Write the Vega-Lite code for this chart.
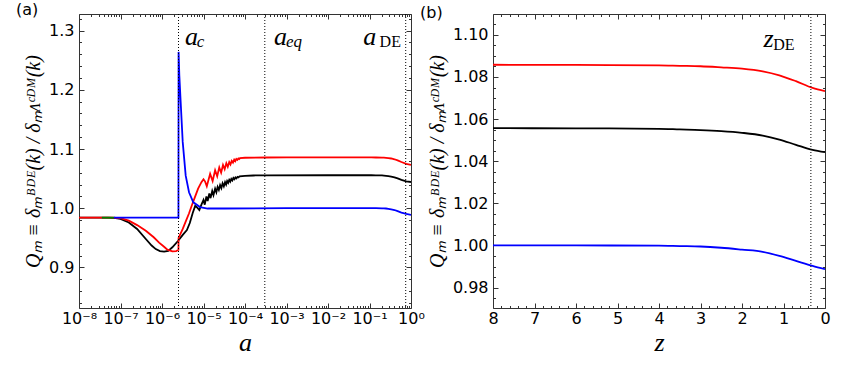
{
  "$schema": "https://vega.github.io/schema/vega-lite/v6.json",
  "bounds": "flush",
  "spacing": 82,
  "padding": {"left": 16, "top": 2, "right": 5, "bottom": 5},
  "config": {
    "view": {"stroke": null},
    "axis": {
      "labelFont": "DejaVu Sans", "labelFontSize": 16, "labelColor": "black",
      "domainColor": "#333333", "tickColor": "#333333", "grid": false,
      "titleFont": "Liberation Serif", "titleFontStyle": "italic", "titleFontWeight": "normal", "titleColor": "black",
      "labelOverlap": false, "labelFlush": false
    },
    "title": {"font": "DejaVu Sans", "fontSize": 16, "fontWeight": "normal", "color": "black"}
  },
  "datasets": {
    "qa": [
      {"s": "k1", "a": 1e-8, "q": 0.984}, {"s": "k1", "a": 5.012e-8, "q": 0.984}, {"s": "k1", "a": 7.586e-8, "q": 0.9835},
      {"s": "k1", "a": 1e-7, "q": 0.982}, {"s": "k1", "a": 1.585e-7, "q": 0.976}, {"s": "k1", "a": 2.512e-7, "q": 0.965},
      {"s": "k1", "a": 4.074e-7, "q": 0.948}, {"s": "k1", "a": 5.623e-7, "q": 0.937}, {"s": "k1", "a": 7.079e-7, "q": 0.931},
      {"s": "k1", "a": 8.913e-7, "q": 0.9275}, {"s": "k1", "a": 1.122e-6, "q": 0.9266}, {"s": "k1", "a": 1.413e-6, "q": 0.928},
      {"s": "k1", "a": 1.778e-6, "q": 0.934}, {"s": "k1", "a": 2.455e-6, "q": 0.945}, {"s": "k1", "a": 3.162e-6, "q": 0.955},
      {"s": "k1", "a": 3.981e-6, "q": 0.963}, {"s": "k1", "a": 4.677e-6, "q": 0.975}, {"s": "k1", "a": 5.495e-6, "q": 0.992},
      {"s": "k1", "a": 6.31e-6, "q": 1.004}, {"s": "k1", "a": 7.079e-6, "q": 1.001}, {"s": "k1", "a": 7.943e-6, "q": 0.997},
      {"s": "k1", "a": 8.913e-6, "q": 1.006}, {"s": "k1", "a": 1e-5, "q": 1.014}, {"s": "k1", "a": 1.072e-5, "q": 1.006},
      {"s": "k1", "a": 1.175e-5, "q": 1.020}, {"s": "k1", "a": 1.259e-5, "q": 1.012}, {"s": "k1", "a": 1.380e-5, "q": 1.025},
      {"s": "k1", "a": 1.479e-5, "q": 1.017}, {"s": "k1", "a": 1.622e-5, "q": 1.029}, {"s": "k1", "a": 1.738e-5, "q": 1.022},
      {"s": "k1", "a": 1.905e-5, "q": 1.033}, {"s": "k1", "a": 2.042e-5, "q": 1.027}, {"s": "k1", "a": 2.188e-5, "q": 1.036},
      {"s": "k1", "a": 2.344e-5, "q": 1.031}, {"s": "k1", "a": 2.512e-5, "q": 1.039}, {"s": "k1", "a": 2.692e-5, "q": 1.034},
      {"s": "k1", "a": 2.884e-5, "q": 1.042}, {"s": "k1", "a": 3.090e-5, "q": 1.037}, {"s": "k1", "a": 3.311e-5, "q": 1.044},
      {"s": "k1", "a": 3.508e-5, "q": 1.040}, {"s": "k1", "a": 3.715e-5, "q": 1.046}, {"s": "k1", "a": 3.936e-5, "q": 1.043},
      {"s": "k1", "a": 4.169e-5, "q": 1.048}, {"s": "k1", "a": 4.416e-5, "q": 1.045}, {"s": "k1", "a": 4.677e-5, "q": 1.0495},
      {"s": "k1", "a": 4.955e-5, "q": 1.047}, {"s": "k1", "a": 5.248e-5, "q": 1.051}, {"s": "k1", "a": 5.559e-5, "q": 1.049},
      {"s": "k1", "a": 5.888e-5, "q": 1.052}, {"s": "k1", "a": 6.237e-5, "q": 1.0505}, {"s": "k1", "a": 6.607e-5, "q": 1.053},
      {"s": "k1", "a": 6.998e-5, "q": 1.052}, {"s": "k1", "a": 7.413e-5, "q": 1.054}, {"s": "k1", "a": 1e-4, "q": 1.0548},
      {"s": "k1", "a": 1.585e-4, "q": 1.0553}, {"s": "k1", "a": 3.162e-4, "q": 1.0556}, {"s": "k1", "a": 1e-2, "q": 1.0557},
      {"s": "k1", "a": 0.1111, "q": 1.0557}, {"s": "k1", "a": 0.1429, "q": 1.0556}, {"s": "k1", "a": 0.2, "q": 1.0554},
      {"s": "k1", "a": 0.2222, "q": 1.0551}, {"s": "k1", "a": 0.25, "q": 1.0548}, {"s": "k1", "a": 0.2857, "q": 1.0543},
      {"s": "k1", "a": 0.3333, "q": 1.0535}, {"s": "k1", "a": 0.4, "q": 1.0522}, {"s": "k1", "a": 0.4762, "q": 1.0503},
      {"s": "k1", "a": 0.5882, "q": 1.0478}, {"s": "k1", "a": 0.7692, "q": 1.0454}, {"s": "k1", "a": 1.0, "q": 1.0443},

      {"s": "k2", "a": 1e-8, "q": 0.984}, {"s": "k2", "a": 6.31e-8, "q": 0.984}, {"s": "k2", "a": 1e-7, "q": 0.9832},
      {"s": "k2", "a": 1.585e-7, "q": 0.979}, {"s": "k2", "a": 2.512e-7, "q": 0.9715}, {"s": "k2", "a": 4.074e-7, "q": 0.962},
      {"s": "k2", "a": 6.31e-7, "q": 0.951}, {"s": "k2", "a": 8.511e-7, "q": 0.942}, {"s": "k2", "a": 1.122e-6, "q": 0.935},
      {"s": "k2", "a": 1.349e-6, "q": 0.930}, {"s": "k2", "a": 1.778e-6, "q": 0.927}, {"s": "k2", "a": 2.188e-6, "q": 0.9275},
      {"s": "k2", "a": 2.49e-6, "q": 0.930}, {"s": "k2", "a": 2.51e-6, "q": 0.950}, {"s": "k2", "a": 3.162e-6, "q": 0.965},
      {"s": "k2", "a": 3.802e-6, "q": 0.979}, {"s": "k2", "a": 4.467e-6, "q": 0.991}, {"s": "k2", "a": 5.248e-6, "q": 1.005},
      {"s": "k2", "a": 6.31e-6, "q": 1.020}, {"s": "k2", "a": 7.413e-6, "q": 1.033}, {"s": "k2", "a": 8.913e-6, "q": 1.044},
      {"s": "k2", "a": 1e-5, "q": 1.049}, {"s": "k2", "a": 1.096e-5, "q": 1.045}, {"s": "k2", "a": 1.202e-5, "q": 1.037},
      {"s": "k2", "a": 1.445e-5, "q": 1.058}, {"s": "k2", "a": 1.660e-5, "q": 1.046}, {"s": "k2", "a": 1.905e-5, "q": 1.064},
      {"s": "k2", "a": 2.138e-5, "q": 1.054}, {"s": "k2", "a": 2.399e-5, "q": 1.069}, {"s": "k2", "a": 2.661e-5, "q": 1.060},
      {"s": "k2", "a": 2.951e-5, "q": 1.073}, {"s": "k2", "a": 3.236e-5, "q": 1.066}, {"s": "k2", "a": 3.548e-5, "q": 1.076},
      {"s": "k2", "a": 3.846e-5, "q": 1.070}, {"s": "k2", "a": 4.169e-5, "q": 1.078}, {"s": "k2", "a": 4.467e-5, "q": 1.074},
      {"s": "k2", "a": 4.786e-5, "q": 1.080}, {"s": "k2", "a": 5.129e-5, "q": 1.077}, {"s": "k2", "a": 5.495e-5, "q": 1.082},
      {"s": "k2", "a": 5.821e-5, "q": 1.0795}, {"s": "k2", "a": 6.166e-5, "q": 1.0832}, {"s": "k2", "a": 6.531e-5, "q": 1.0815},
      {"s": "k2", "a": 6.918e-5, "q": 1.0840}, {"s": "k2", "a": 7.244e-5, "q": 1.0830}, {"s": "k2", "a": 7.586e-5, "q": 1.0847},
      {"s": "k2", "a": 1e-4, "q": 1.0852}, {"s": "k2", "a": 3.162e-4, "q": 1.0857}, {"s": "k2", "a": 1e-3, "q": 1.0859},
      {"s": "k2", "a": 1e-2, "q": 1.0859}, {"s": "k2", "a": 0.1111, "q": 1.0858}, {"s": "k2", "a": 0.1429, "q": 1.0857},
      {"s": "k2", "a": 0.2, "q": 1.0855}, {"s": "k2", "a": 0.2222, "q": 1.0853}, {"s": "k2", "a": 0.25, "q": 1.0851},
      {"s": "k2", "a": 0.2857, "q": 1.0846}, {"s": "k2", "a": 0.3333, "q": 1.0840}, {"s": "k2", "a": 0.4, "q": 1.0827},
      {"s": "k2", "a": 0.4762, "q": 1.0808}, {"s": "k2", "a": 0.5882, "q": 1.0780}, {"s": "k2", "a": 0.7692, "q": 1.0748},
      {"s": "k2", "a": 1.0, "q": 1.0733},

      {"s": "k3", "a": 3.548e-8, "q": 0.984}, {"s": "k3", "a": 7.2e-8, "q": 0.984},

      {"s": "k4", "a": 6.918e-8, "q": 0.984}, {"s": "k4", "a": 2.49e-6, "q": 0.984}, {"s": "k4", "a": 2.51e-6, "q": 1.264},
      {"s": "k4", "a": 2.612e-6, "q": 1.225}, {"s": "k4", "a": 2.871e-6, "q": 1.168}, {"s": "k4", "a": 3.155e-6, "q": 1.112},
      {"s": "k4", "a": 3.724e-6, "q": 1.055}, {"s": "k4", "a": 4.477e-6, "q": 1.027}, {"s": "k4", "a": 5.689e-6, "q": 1.010},
      {"s": "k4", "a": 8.241e-6, "q": 1.002}, {"s": "k4", "a": 1.259e-5, "q": 0.9995}, {"s": "k4", "a": 3.162e-5, "q": 0.9995},
      {"s": "k4", "a": 1e-3, "q": 1.0}, {"s": "k4", "a": 1e-2, "q": 1.0}, {"s": "k4", "a": 0.1111, "q": 1.0},
      {"s": "k4", "a": 0.1429, "q": 1.0}, {"s": "k4", "a": 0.2, "q": 0.9999}, {"s": "k4", "a": 0.2222, "q": 0.9997},
      {"s": "k4", "a": 0.25, "q": 0.9995}, {"s": "k4", "a": 0.2857, "q": 0.9989}, {"s": "k4", "a": 0.3333, "q": 0.9980},
      {"s": "k4", "a": 0.4, "q": 0.9970}, {"s": "k4", "a": 0.4762, "q": 0.9951}, {"s": "k4", "a": 0.5882, "q": 0.9927},
      {"s": "k4", "a": 0.7692, "q": 0.9903}, {"s": "k4", "a": 1.0, "q": 0.9887}
    ],
    "qb": [
      {"s": "k1", "z": 8, "q": 1.0557}, {"s": "k1", "z": 6, "q": 1.0556}, {"s": "k1", "z": 4, "q": 1.0554},
      {"s": "k1", "z": 3.5, "q": 1.0551}, {"s": "k1", "z": 3, "q": 1.0548}, {"s": "k1", "z": 2.5, "q": 1.0543},
      {"s": "k1", "z": 2, "q": 1.0535}, {"s": "k1", "z": 1.5, "q": 1.0522}, {"s": "k1", "z": 1.1, "q": 1.0503},
      {"s": "k1", "z": 0.7, "q": 1.0478}, {"s": "k1", "z": 0.3, "q": 1.0454}, {"s": "k1", "z": 0, "q": 1.0443},
      {"s": "k2", "z": 8, "q": 1.0858}, {"s": "k2", "z": 6, "q": 1.0857}, {"s": "k2", "z": 4, "q": 1.0855},
      {"s": "k2", "z": 3.5, "q": 1.0853}, {"s": "k2", "z": 3, "q": 1.0851}, {"s": "k2", "z": 2.5, "q": 1.0846},
      {"s": "k2", "z": 2, "q": 1.0840}, {"s": "k2", "z": 1.5, "q": 1.0827}, {"s": "k2", "z": 1.1, "q": 1.0808},
      {"s": "k2", "z": 0.7, "q": 1.0780}, {"s": "k2", "z": 0.3, "q": 1.0748}, {"s": "k2", "z": 0, "q": 1.0733},
      {"s": "k4", "z": 8, "q": 1.0000}, {"s": "k4", "z": 6, "q": 1.0000}, {"s": "k4", "z": 4, "q": 0.9999},
      {"s": "k4", "z": 3.5, "q": 0.9997}, {"s": "k4", "z": 3, "q": 0.9995}, {"s": "k4", "z": 2.5, "q": 0.9989},
      {"s": "k4", "z": 2, "q": 0.9980}, {"s": "k4", "z": 1.5, "q": 0.9970}, {"s": "k4", "z": 1.1, "q": 0.9951},
      {"s": "k4", "z": 0.7, "q": 0.9927}, {"s": "k4", "z": 0.3, "q": 0.9903}, {"s": "k4", "z": 0, "q": 0.9887}
    ],
    "va": [{"a": 2.5e-6}, {"a": 3.0e-4}, {"a": 0.746}],
    "vb": [{"z": 0.34}],
    "anna": [
      {"a": 3.58e-6, "q": 1.2757, "t": "a", "kind": "main"},
      {"a": 5.0e-4, "q": 1.2757, "t": "a", "kind": "main"},
      {"a": 0.071, "q": 1.2757, "t": "a", "kind": "main"},
      {"a": 6.85e-6, "q": 1.2729, "t": "c", "kind": "sub"},
      {"a": 9.7e-4, "q": 1.2729, "t": "eq", "kind": "sub"},
      {"a": 0.175, "q": 1.2729, "t": "DE", "kind": "up"}
    ],
    "annb": [
      {"z": 1.48, "q": 1.0943, "t": "z", "kind": "main"},
      {"z": 1.246, "q": 1.0930, "t": "DE", "kind": "up"}
    ]
  },
  "hconcat": [
    {
      "title": {"text": "(a)", "anchor": "start", "frame": "group", "dx": -63, "offset": -20.5, "baseline": "alphabetic"},
      "width": 332, "height": 294,
      "layer": [
        {
          "data": {"name": "qa"},
          "mark": {"type": "line", "strokeWidth": 1.8, "clip": true},
          "encoding": {
            "x": {"field": "a", "type": "quantitative",
              "scale": {"type": "log", "domain": [1e-8, 1], "nice": false},
              "axis": {"orient": "bottom", "title": "a", "titleFontSize": 26, "titlePadding": 1, "labelPadding": 7,
                "values": [1e-8,2e-8,3e-8,4e-8,5e-8,6e-8,7e-8,8e-8,9e-8,1e-7,2e-7,3e-7,4e-7,5e-7,6e-7,7e-7,8e-7,9e-7,1e-6,2e-6,3e-6,4e-6,5e-6,6e-6,7e-6,8e-6,9e-6,1e-5,2e-5,3e-5,4e-5,5e-5,6e-5,7e-5,8e-5,9e-5,1e-4,2e-4,3e-4,4e-4,5e-4,6e-4,7e-4,8e-4,9e-4,1e-3,2e-3,3e-3,4e-3,5e-3,6e-3,7e-3,8e-3,9e-3,1e-2,2e-2,3e-2,4e-2,5e-2,6e-2,7e-2,8e-2,9e-2,1e-1,2e-1,3e-1,4e-1,5e-1,6e-1,7e-1,8e-1,9e-1,1],
                "labelExpr": "abs(log(datum.value)/LN10 - round(log(datum.value)/LN10)) < 0.01 ? '10' + ['⁰','⁻¹','⁻²','⁻³','⁻⁴','⁻⁵','⁻⁶','⁻⁷','⁻⁸'][-round(log(datum.value)/LN10)] : ''",
                "tickSize": {"condition": {"test": "abs(log(datum.value)/LN10 - round(log(datum.value)/LN10)) < 0.01", "value": -5}, "value": -2.5}}},
            "y": {"field": "q", "type": "quantitative",
              "scale": {"domain": [0.8315, 1.328], "zero": false, "nice": false},
              "axis": {"orient": "left", "title": "Qₘ ≡ δₘᴮᴰᴱ(k) / δₘᴧᶜᴰᴹ(k)", "titleFontSize": 20, "titlePadding": 5, "labelPadding": 10,
                "values": [0.84,0.86,0.88,0.9,0.92,0.94,0.96,0.98,1.0,1.02,1.04,1.06,1.08,1.1,1.12,1.14,1.16,1.18,1.2,1.22,1.24,1.26,1.28,1.3,1.32],
                "labelExpr": "abs(datum.value*10 - round(datum.value*10)) < 0.001 ? format(datum.value, '.1f') : ''",
                "tickSize": {"condition": {"test": "abs(datum.value*10 - round(datum.value*10)) < 0.001", "value": -5}, "value": -2.5}}},
            "color": {"field": "s", "type": "nominal",
              "scale": {"domain": ["k1", "k2", "k3", "k4"], "range": ["#000000", "#ff0000", "#008000", "#0000ff"]},
              "legend": null}
          }
        },
        {
          "data": {"name": "va"},
          "mark": {"type": "rule", "color": "#000000", "strokeWidth": 1, "strokeDash": [1, 2]},
          "encoding": {
            "x": {"field": "a", "type": "quantitative",
              "axis": {"orient": "top", "title": null, "labels": false,
                "values": [1e-8,2e-8,3e-8,4e-8,5e-8,6e-8,7e-8,8e-8,9e-8,1e-7,2e-7,3e-7,4e-7,5e-7,6e-7,7e-7,8e-7,9e-7,1e-6,2e-6,3e-6,4e-6,5e-6,6e-6,7e-6,8e-6,9e-6,1e-5,2e-5,3e-5,4e-5,5e-5,6e-5,7e-5,8e-5,9e-5,1e-4,2e-4,3e-4,4e-4,5e-4,6e-4,7e-4,8e-4,9e-4,1e-3,2e-3,3e-3,4e-3,5e-3,6e-3,7e-3,8e-3,9e-3,1e-2,2e-2,3e-2,4e-2,5e-2,6e-2,7e-2,8e-2,9e-2,1e-1,2e-1,3e-1,4e-1,5e-1,6e-1,7e-1,8e-1,9e-1,1],
                "tickSize": {"condition": {"test": "abs(log(datum.value)/LN10 - round(log(datum.value)/LN10)) < 0.01", "value": -5}, "value": -2.5}}}
          }
        },
        {
          "data": {"name": "anna"},
          "transform": [{"filter": "datum.kind == 'main'"}],
          "mark": {"type": "text", "font": "Liberation Serif", "fontStyle": "italic", "fontSize": 26, "align": "left", "baseline": "alphabetic", "color": "black"},
          "encoding": {
            "x": {"field": "a", "type": "quantitative", "axis": null},
            "y": {"field": "q", "type": "quantitative",
              "axis": {"orient": "right", "title": null, "labels": false,
                "values": [0.84,0.86,0.88,0.9,0.92,0.94,0.96,0.98,1.0,1.02,1.04,1.06,1.08,1.1,1.12,1.14,1.16,1.18,1.2,1.22,1.24,1.26,1.28,1.3,1.32],
                "tickSize": {"condition": {"test": "abs(datum.value*10 - round(datum.value*10)) < 0.001", "value": -5}, "value": -2.5}}},
            "text": {"field": "t"}
          }
        },
        {
          "data": {"name": "anna"},
          "transform": [{"filter": "datum.kind == 'sub'"}],
          "mark": {"type": "text", "font": "Liberation Serif", "fontStyle": "italic", "fontSize": 17, "align": "left", "baseline": "alphabetic", "color": "black"},
          "encoding": {
            "x": {"field": "a", "type": "quantitative", "axis": null},
            "y": {"field": "q", "type": "quantitative", "axis": null},
            "text": {"field": "t"}
          }
        },
        {
          "data": {"name": "anna"},
          "transform": [{"filter": "datum.kind == 'up'"}],
          "mark": {"type": "text", "font": "Liberation Serif", "fontSize": 16, "align": "left", "baseline": "alphabetic", "color": "black"},
          "encoding": {
            "x": {"field": "a", "type": "quantitative", "axis": null},
            "y": {"field": "q", "type": "quantitative", "axis": null},
            "text": {"field": "t"}
          }
        }
      ],
      "resolve": {"axis": {"x": "independent", "y": "independent"}}
    },
    {
      "title": {"text": "(b)", "anchor": "start", "frame": "group", "dx": -73, "offset": -20.5, "baseline": "alphabetic"},
      "width": 332, "height": 294,
      "layer": [
        {
          "data": {"name": "qb"},
          "mark": {"type": "line", "strokeWidth": 1.8, "clip": true, "interpolate": "monotone"},
          "encoding": {
            "x": {"field": "z", "type": "quantitative",
              "scale": {"domain": [0, 8], "reverse": true, "nice": false, "zero": false},
              "axis": {"orient": "bottom", "title": "z", "titleFontSize": 26, "titlePadding": 1, "labelPadding": 7,
                "values": [0,0.2,0.4,0.6,0.8,1,1.2,1.4,1.6,1.8,2,2.2,2.4,2.6,2.8,3,3.2,3.4,3.6,3.8,4,4.2,4.4,4.6,4.8,5,5.2,5.4,5.6,5.8,6,6.2,6.4,6.6,6.8,7,7.2,7.4,7.6,7.8,8],
                "labelExpr": "abs(datum.value - round(datum.value)) < 0.001 ? format(datum.value, 'd') : ''",
                "tickSize": {"condition": {"test": "abs(datum.value - round(datum.value)) < 0.001", "value": -5}, "value": -2.5}}},
            "y": {"field": "q", "type": "quantitative",
              "scale": {"domain": [0.9703, 1.1099], "zero": false, "nice": false},
              "axis": {"orient": "left", "title": "Qₘ ≡ δₘᴮᴰᴱ(k) / δₘᴧᶜᴰᴹ(k)", "titleFontSize": 20, "titlePadding": 5, "labelPadding": 10,
                "values": [0.97,0.975,0.98,0.985,0.99,0.995,1.0,1.005,1.01,1.015,1.02,1.025,1.03,1.035,1.04,1.045,1.05,1.055,1.06,1.065,1.07,1.075,1.08,1.085,1.09,1.095,1.1,1.105],
                "labelExpr": "abs(datum.value*50 - round(datum.value*50)) < 0.001 ? format(datum.value, '.2f') : ''",
                "tickSize": {"condition": {"test": "abs(datum.value*50 - round(datum.value*50)) < 0.001", "value": -5}, "value": -2.5}}},
            "color": {"field": "s", "type": "nominal",
              "scale": {"domain": ["k1", "k2", "k3", "k4"], "range": ["#000000", "#ff0000", "#008000", "#0000ff"]},
              "legend": null}
          }
        },
        {
          "data": {"name": "vb"},
          "mark": {"type": "rule", "color": "#000000", "strokeWidth": 1, "strokeDash": [1, 2]},
          "encoding": {
            "x": {"field": "z", "type": "quantitative",
              "axis": {"orient": "top", "title": null, "labels": false,
                "values": [0,0.2,0.4,0.6,0.8,1,1.2,1.4,1.6,1.8,2,2.2,2.4,2.6,2.8,3,3.2,3.4,3.6,3.8,4,4.2,4.4,4.6,4.8,5,5.2,5.4,5.6,5.8,6,6.2,6.4,6.6,6.8,7,7.2,7.4,7.6,7.8,8],
                "tickSize": {"condition": {"test": "abs(datum.value - round(datum.value)) < 0.001", "value": -5}, "value": -2.5}}}
          }
        },
        {
          "data": {"name": "annb"},
          "transform": [{"filter": "datum.kind == 'main'"}],
          "mark": {"type": "text", "font": "Liberation Serif", "fontStyle": "italic", "fontSize": 26, "align": "left", "baseline": "alphabetic", "color": "black"},
          "encoding": {
            "x": {"field": "z", "type": "quantitative", "axis": null},
            "y": {"field": "q", "type": "quantitative",
              "axis": {"orient": "right", "title": null, "labels": false,
                "values": [0.97,0.975,0.98,0.985,0.99,0.995,1.0,1.005,1.01,1.015,1.02,1.025,1.03,1.035,1.04,1.045,1.05,1.055,1.06,1.065,1.07,1.075,1.08,1.085,1.09,1.095,1.1,1.105],
                "tickSize": {"condition": {"test": "abs(datum.value*50 - round(datum.value*50)) < 0.001", "value": -5}, "value": -2.5}}},
            "text": {"field": "t"}
          }
        },
        {
          "data": {"name": "annb"},
          "transform": [{"filter": "datum.kind == 'up'"}],
          "mark": {"type": "text", "font": "Liberation Serif", "fontSize": 16, "align": "left", "baseline": "alphabetic", "color": "black"},
          "encoding": {
            "x": {"field": "z", "type": "quantitative", "axis": null},
            "y": {"field": "q", "type": "quantitative", "axis": null},
            "text": {"field": "t"}
          }
        }
      ],
      "resolve": {"axis": {"x": "independent", "y": "independent"}}
    }
  ]
}
